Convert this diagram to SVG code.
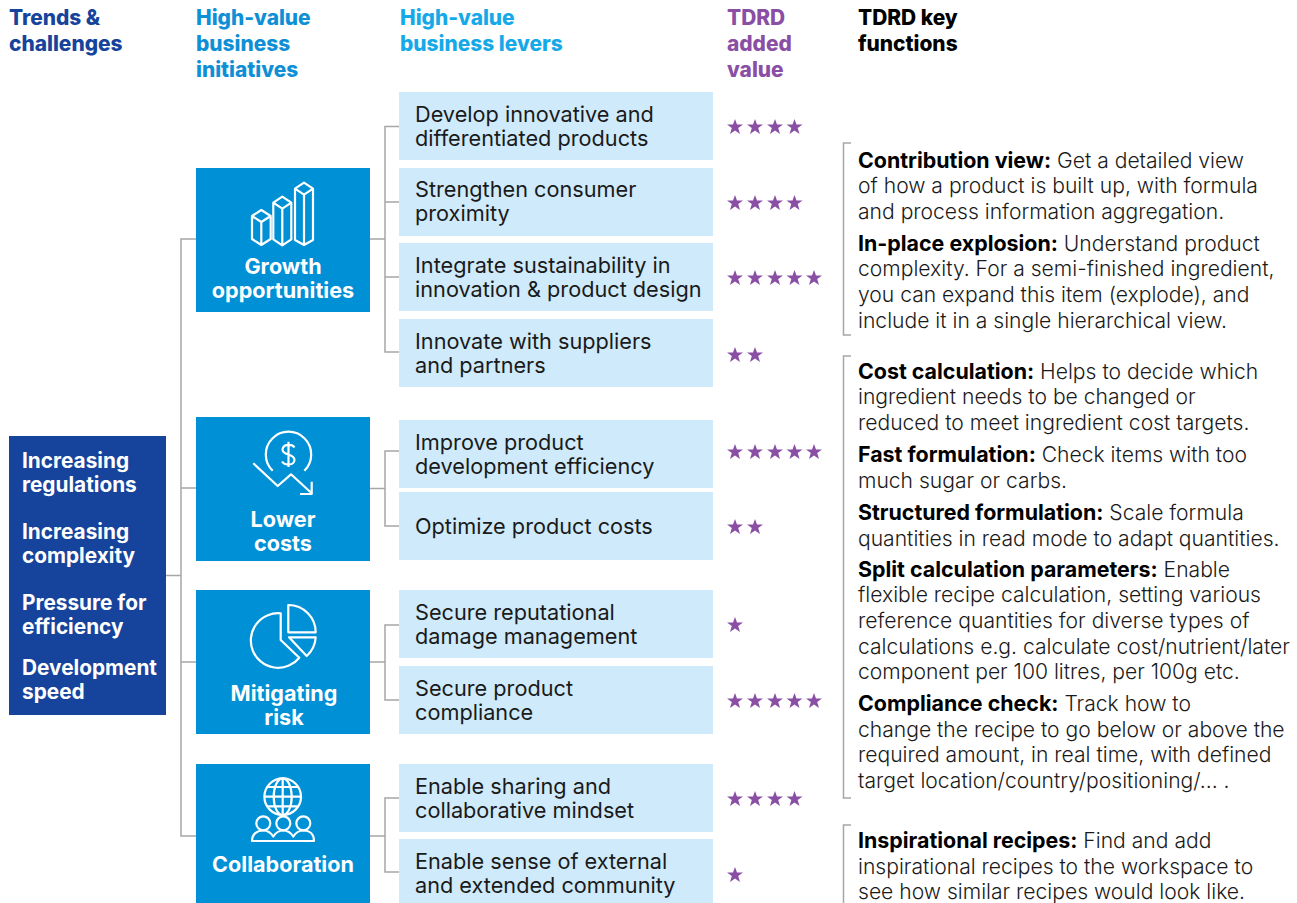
<svg xmlns="http://www.w3.org/2000/svg" width="1297" height="903" viewBox="0 0 1297 903">
<style>
text{font-family:Inter,"Liberation Sans",sans-serif}
.h{font-size:20.9px;font-weight:800}
.w{font-size:20.8px;font-weight:700;fill:#fff}
.m{font-size:21.6px;font-weight:700;fill:#fff}
.l{font-size:21.7px;font-weight:400;fill:#1a1a1a}
.t{font-size:21.1px;font-weight:300;fill:#1a1a1a}
.t tspan{font-size:21.4px;font-weight:700;fill:#000}
.db{fill:#16439b}.mb{fill:#0090d6}.lb{fill:#cfeafa}
.c{fill:none;stroke:#a6a6a6;stroke-width:1.5}
.i{fill:none;stroke:#fff;stroke-width:2.2;stroke-linejoin:round}
.s{fill:#8a4fa5}
</style>
<defs>
<polygon id="star" points="0,-8 2,-2.5 8,-2.5 3.2,1 5,7 0,3.4 -5,7 -3.2,1 -8,-2.5 -2,-2.5"/>
</defs>
<g id="connectors" class="c">
<path d="M166 575.500H181M196 239H181V836H196M181 488H196M181 662H196"/>
<path d="M370 239H385M399 126.500H385V352H399M385 202H399M385 277H399"/>
<path d="M370 488.500H385M399 451H385V526H399"/>
<path d="M370 662H385M399 625H385V700H399"/>
<path d="M370 836H385M399 798H385V872H399"/>
<path d="M851 143H843.500V335H851M851 356H843.500V798H851M851 825H843.500V903"/>
</g>
<g id="headers">
<text class="h" fill="#16439b"><tspan x="9" y="25">Trends &amp;</tspan><tspan x="9" y="51">challenges</tspan></text>
<text class="h" fill="#0f8fd6"><tspan x="196" y="25">High-value</tspan><tspan x="196" y="51">business</tspan><tspan x="196" y="77">initiatives</tspan></text>
<text class="h" fill="#16a9e8"><tspan x="400" y="25">High-value</tspan><tspan x="400" y="51">business levers</tspan></text>
<text class="h" fill="#8a4fa5"><tspan x="727" y="25">TDRD</tspan><tspan x="727" y="51">added</tspan><tspan x="727" y="77">value</tspan></text>
<text class="h" fill="#000"><tspan x="858" y="25">TDRD key</tspan><tspan x="858" y="51">functions</tspan></text>
</g>
<g id="trends">
<rect class="db" x="9" y="436" width="157" height="279"/>
<text class="w"><tspan x="22" y="468">Increasing</tspan><tspan x="22" y="492">regulations</tspan><tspan x="22" y="539">Increasing</tspan><tspan x="22" y="563">complexity</tspan><tspan x="22" y="610">Pressure for</tspan><tspan x="22" y="634">efficiency</tspan><tspan x="22" y="675">Development</tspan><tspan x="22" y="699">speed</tspan></text>
</g>
<g id="growth">
<rect class="mb" x="196" y="168" width="174" height="144"/>
<path class="i" d="M252 216L261.300 210L270.700 216V239L261.300 245L252 239ZM252 216L261.300 222L270.700 216M261.300 222V245"/>
<path class="i" d="M273.300 202.700L282.300 196.700L291.300 202.700V239.300L282.300 245.300L273.300 239.300ZM273.300 202.700L282.300 208.700L291.300 202.700M282.300 208.700V245.300"/>
<path class="i" d="M295 188.700L304 182.700L313 188.700V240L304 245L295 240ZM295 188.700L304 194.700L313 188.700M304 194.700V245"/>
<text class="m" text-anchor="middle"><tspan x="283" y="274">Growth</tspan><tspan x="283" y="298">opportunities</tspan></text>
</g>
<g id="costs">
<rect class="mb" x="196" y="417" width="174" height="144"/>
<path class="i" d="M272.700 470.700A22.700 22.700 0 1 1 304.300 470.700"/>
<path class="i" d="M288.500 441.700V467M294.500 447.500C292 443.500 283 444 282.500 449.500C282.500 456 294.500 453 294.500 460C294 465.500 285 466 282 461.500"/>
<path class="i" d="M253.300 463.300L277.700 486L291 474.300L311.700 493.300M311.700 481.700V494H300"/>
<text class="m" text-anchor="middle"><tspan x="283" y="527">Lower</tspan><tspan x="283" y="551">costs</tspan></text>
</g>
<g id="risk">
<rect class="mb" x="196" y="590" width="174" height="144"/>
<path class="i" d="M280.700 613.300A27.300 27.300 0 1 0 299.300 657.700L280.700 640Z"/>
<path class="i" d="M288.300 605A27.300 27.300 0 0 1 315.700 632.300H288.300Z"/>
<path class="i" d="M289 637.300H315.700A27.300 27.300 0 0 1 306.700 656Z"/>
<text class="m" text-anchor="middle"><tspan x="284" y="701">Mitigating</tspan><tspan x="284" y="725">risk</tspan></text>
</g>
<g id="collaboration">
<rect class="mb" x="196" y="764" width="174" height="139"/>
<circle class="i" cx="282.700" cy="796.700" r="18.300"/>
<ellipse class="i" cx="282.700" cy="796.700" rx="9" ry="18.300"/>
<path class="i" d="M282.700 778.400V815M264.400 796.700H301M267 787H298.400M267 806.400H298.400"/>
<circle class="i" cx="263.300" cy="823.300" r="7"/>
<circle class="i" cx="283.300" cy="823.300" r="7"/>
<circle class="i" cx="303.300" cy="823.300" r="7"/>
<path class="i" d="M252 841C252 834 257 830.500 263.300 830.500C268 830.500 271 833 273.300 836.500C275.500 833 279 830.500 283.300 830.500C287.500 830.500 291 833 293.300 836.500C295.500 833 299 830.500 303.300 830.500C309.500 830.500 314 834 314 841Z"/>
<text class="m" x="283" y="872" text-anchor="middle">Collaboration</text>
</g>
<g id="lever1"><rect class="lb" x="399" y="92" width="314" height="68"/><text class="l"><tspan x="415" y="122">Develop innovative and</tspan><tspan x="415" y="146">differentiated products</tspan></text></g>
<g id="lever2"><rect class="lb" x="399" y="168" width="314" height="68"/><text class="l"><tspan x="415" y="197">Strengthen consumer</tspan><tspan x="415" y="221">proximity</tspan></text></g>
<g id="lever3"><rect class="lb" x="399" y="243" width="314" height="68"/><text class="l"><tspan x="415" y="273">Integrate sustainability in</tspan><tspan x="415" y="297">innovation &amp; product design</tspan></text></g>
<g id="lever4"><rect class="lb" x="399" y="319" width="314" height="68"/><text class="l"><tspan x="415" y="349">Innovate with suppliers</tspan><tspan x="415" y="373">and partners</tspan></text></g>
<g id="lever5"><rect class="lb" x="399" y="420" width="314" height="68"/><text class="l"><tspan x="415" y="450">Improve product</tspan><tspan x="415" y="474">development efficiency</tspan></text></g>
<g id="lever6"><rect class="lb" x="399" y="492" width="314" height="68"/><text class="l" x="415" y="534">Optimize product costs</text></g>
<g id="lever7"><rect class="lb" x="399" y="590" width="314" height="68"/><text class="l"><tspan x="415" y="620">Secure reputational</tspan><tspan x="415" y="644">damage management</tspan></text></g>
<g id="lever8"><rect class="lb" x="399" y="666" width="314" height="68"/><text class="l"><tspan x="415" y="696">Secure product</tspan><tspan x="415" y="720">compliance</tspan></text></g>
<g id="lever9"><rect class="lb" x="399" y="764" width="314" height="68"/><text class="l"><tspan x="415" y="794">Enable sharing and</tspan><tspan x="415" y="818">collaborative mindset</tspan></text></g>
<g id="lever10"><rect class="lb" x="399" y="839" width="314" height="64"/><text class="l"><tspan x="415" y="869">Enable sense of external</tspan><tspan x="415" y="893">and extended community</tspan></text></g>
<g id="stars" class="s">
<use href="#star" x="735" y="127"/><use href="#star" x="755" y="127"/><use href="#star" x="775" y="127"/><use href="#star" x="794.500" y="127"/>
<use href="#star" x="735" y="203"/><use href="#star" x="755" y="203"/><use href="#star" x="775" y="203"/><use href="#star" x="794.500" y="203"/>
<use href="#star" x="735" y="278"/><use href="#star" x="755" y="278"/><use href="#star" x="775" y="278"/><use href="#star" x="794.500" y="278"/><use href="#star" x="814" y="278"/>
<use href="#star" x="735" y="355"/><use href="#star" x="755" y="355"/>
<use href="#star" x="735" y="452"/><use href="#star" x="755" y="452"/><use href="#star" x="775" y="452"/><use href="#star" x="794.500" y="452"/><use href="#star" x="814" y="452"/>
<use href="#star" x="735" y="527"/><use href="#star" x="755" y="527"/>
<use href="#star" x="735" y="625"/>
<use href="#star" x="735" y="701"/><use href="#star" x="755" y="701"/><use href="#star" x="775" y="701"/><use href="#star" x="794.500" y="701"/><use href="#star" x="814" y="701"/>
<use href="#star" x="735" y="799"/><use href="#star" x="755" y="799"/><use href="#star" x="775" y="799"/><use href="#star" x="794.500" y="799"/>
<use href="#star" x="735" y="875"/>
</g>
<g id="functions">
<text class="t" x="858" y="168"><tspan>Contribution view:</tspan> Get a detailed view</text>
<text class="t" x="858" y="193">of how a product is built up, with formula</text>
<text class="t" x="858" y="219">and process information aggregation.</text>
<text class="t" x="858" y="251"><tspan>In-place explosion:</tspan> Understand product</text>
<text class="t" x="858" y="276">complexity. For a semi-finished ingredient,</text>
<text class="t" x="858" y="302">you can expand this item (explode), and</text>
<text class="t" x="858" y="328">include it in a single hierarchical view.</text>
<text class="t" x="858" y="379"><tspan>Cost calculation:</tspan> Helps to decide which</text>
<text class="t" x="858" y="404">ingredient needs to be changed or</text>
<text class="t" x="858" y="430">reduced to meet ingredient cost targets.</text>
<text class="t" x="858" y="462"><tspan>Fast formulation:</tspan> Check items with too</text>
<text class="t" x="858" y="488">much sugar or carbs.</text>
<text class="t" x="858" y="520"><tspan>Structured formulation:</tspan> Scale formula</text>
<text class="t" x="858" y="546">quantities in read mode to adapt quantities.</text>
<text class="t" x="858" y="577"><tspan>Split calculation parameters:</tspan> Enable</text>
<text class="t" x="858" y="602">flexible recipe calculation, setting various</text>
<text class="t" x="858" y="628">reference quantities for diverse types of</text>
<text class="t" x="858" y="654">calculations e.g. calculate cost/nutrient/later</text>
<text class="t" x="858" y="679">component per 100 litres, per 100g etc.</text>
<text class="t" x="858" y="711"><tspan>Compliance check:</tspan> Track how to</text>
<text class="t" x="858" y="737">change the recipe to go below or above the</text>
<text class="t" x="858" y="762">required amount, in real time, with defined</text>
<text class="t" x="858" y="788">target location/country/positioning/... .</text>
<text class="t" x="858" y="848"><tspan>Inspirational recipes:</tspan> Find and add</text>
<text class="t" x="858" y="874">inspirational recipes to the workspace to</text>
<text class="t" x="858" y="899">see how similar recipes would look like.</text>
</g>
</svg>
